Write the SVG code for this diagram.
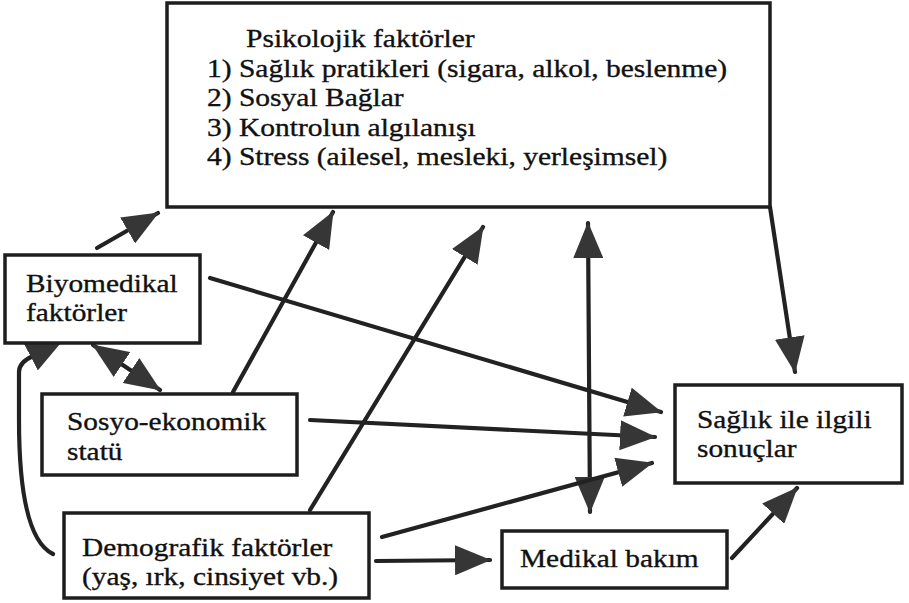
<svg xmlns="http://www.w3.org/2000/svg" width="909" height="603" viewBox="0 0 909 603">
<defs>
<style>
.box{fill:#fff;stroke:#1e1e1e;stroke-width:3.5}
.ln{fill:none;stroke:#222;stroke-width:4.2;stroke-linecap:round}
.ar{marker-end:url(#ah)}
.dbl{marker-start:url(#ah);marker-end:url(#ah)}
.tx{font-family:"Liberation Serif","Times New Roman",serif;fill:#111;stroke:#111;stroke-width:0.35}
</style>
<marker id="ah" markerUnits="userSpaceOnUse" viewBox="0 0 36 30" refX="35" refY="15" markerWidth="36" markerHeight="30" orient="auto-start-reverse">
<path d="M0,0 L36,15 L0,30 Z" fill="#363636"/>
</marker>
</defs>
<rect width="909" height="603" fill="#fff"/>

<g id="connectors">
<line class="ln ar" x1="97" y1="248" x2="158" y2="213"/>
<line class="ln dbl" x1="93" y1="345" x2="160" y2="390"/>
<path class="ln ar" d="M53,554 C26,541 19,480 19,420 L19,372 C19,366 24,360 33,356 L62,341"/>
<line class="ln ar" x1="233" y1="392" x2="333" y2="212"/>
<line class="ln ar" x1="310" y1="510" x2="483" y2="227"/>
<line class="ln dbl" x1="588" y1="223" x2="590" y2="512"/>
<line class="ln ar" x1="770" y1="207" x2="795" y2="372"/>
<line class="ln ar" x1="210" y1="278" x2="661" y2="412"/>
<line class="ln ar" x1="310" y1="420" x2="655" y2="437"/>
<line class="ln ar" x1="382" y1="537" x2="652" y2="463"/>
<line class="ln ar" x1="376" y1="561" x2="490" y2="560"/>
<line class="ln ar" x1="732" y1="558" x2="797" y2="488"/>
</g>

<g id="psikolojik" class="tx" font-size="26">
<rect class="box" x="167" y="3" width="603" height="204"/>
<text transform="translate(246,47) scale(1.135,1)">Psikolojik faktörler</text>
<text transform="translate(207,77) scale(1.135,1)">1) Sağlık pratikleri (sigara, alkol, beslenme)</text>
<text transform="translate(207,106) scale(1.135,1)">2) Sosyal Bağlar</text>
<text transform="translate(207,136) scale(1.135,1)">3) Kontrolun algılanışı</text>
<text transform="translate(207,165) scale(1.135,1)">4) Stress (ailesel, mesleki, yerleşimsel)</text>
</g>

<g id="biyomedikal" class="tx" font-size="26">
<rect class="box" x="5" y="255" width="195" height="88"/>
<text transform="translate(26,292) scale(1.13,1)">Biyomedikal</text>
<text transform="translate(26,321) scale(1.13,1)">faktörler</text>
</g>

<g id="sosyo" class="tx" font-size="26">
<rect class="box" x="42" y="394" width="255" height="81"/>
<text transform="translate(67,430) scale(1.13,1)">Sosyo-ekonomik</text>
<text transform="translate(67,460) scale(1.13,1)">statü</text>
</g>

<g id="demografik" class="tx" font-size="26">
<rect class="box" x="64" y="513" width="305" height="85"/>
<text transform="translate(82,556) scale(1.13,1)">Demografik faktörler</text>
<text transform="translate(82,585) scale(1.13,1)">(yaş, ırk, cinsiyet vb.)</text>
</g>

<g id="medikal" class="tx" font-size="26">
<rect class="box" x="502" y="531" width="225" height="57"/>
<text transform="translate(520,567) scale(1.13,1)">Medikal bakım</text>
</g>

<g id="saglik" class="tx" font-size="26">
<rect class="box" x="675" y="385" width="227" height="98"/>
<text transform="translate(697,428) scale(1.13,1)">Sağlık ile ilgili</text>
<text transform="translate(697,457) scale(1.13,1)">sonuçlar</text>
</g>
</svg>
